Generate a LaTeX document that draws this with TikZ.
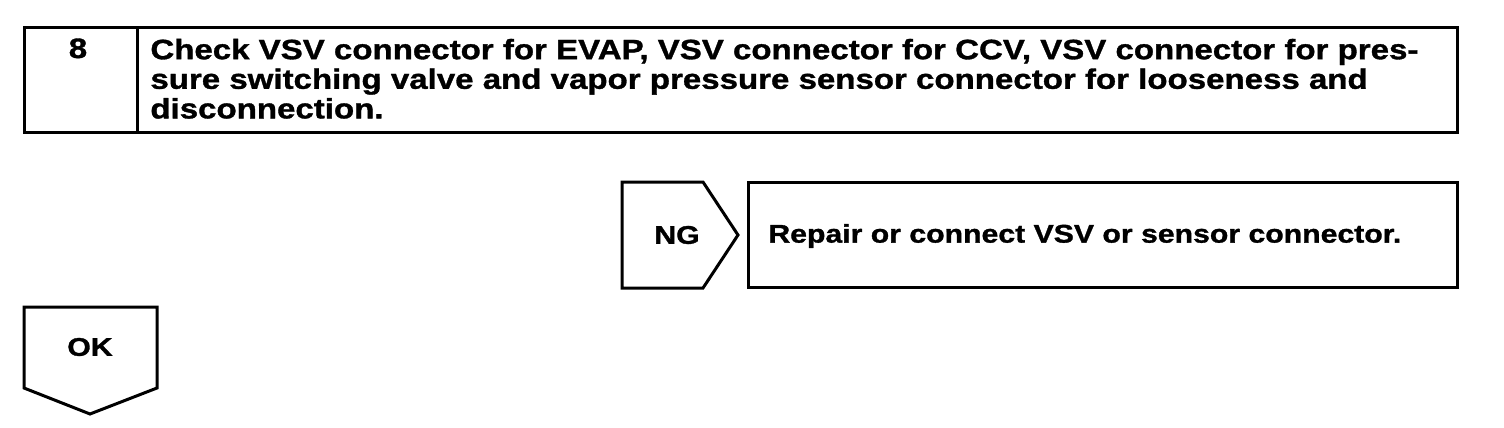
\documentclass[tikz,border=0pt]{standalone}
\usepackage{fontspec}
\setmainfont{Liberation Sans}[FakeStretch=1.18,BoldFeatures={FakeBold=1.2}]
\begin{document}
\begin{tikzpicture}[x=0.5pt,y=-0.5pt,
  frame/.style={draw=black,line width=1.5pt,line join=miter},
  lbl/.style={font=\bfseries\fontsize{14}{14.8}\selectfont,inner sep=0pt},
  small/.style={font=\bfseries\fontsize{12.8}{14}\selectfont,inner sep=0pt}]
\useasboundingbox (0,0) rectangle (1504,428);
% step box
\draw[frame] (24,27) rectangle (1457,132);
\draw[frame] (137,27) -- (137,132);
\node[lbl,anchor=base] (num) at (78,58) {8};
\node[lbl,anchor=north west,align=left] (step) at (150,38.5) {Check VSV connector for EVAP, VSV connector for CCV, VSV connector for pres-\\sure switching valve and vapor pressure sensor connector for looseness and\\disconnection.};
% NG
\draw[frame] (622,182) -- (703,182) -- (738,235) -- (703,288) -- (622,288) -- cycle;
\node[small] (ng) at (677,235) {NG};
\draw[frame] (748,182) rectangle (1457,287);
\node[small,anchor=west] (rep) at (768,236) {Repair or connect VSV or sensor connector.};
% OK
\draw[frame] (24,307) -- (157,307) -- (157,388) -- (90,414) -- (24,388) -- cycle;
\node[small] (ok) at (90,347) {OK};
\end{tikzpicture}
\end{document}
